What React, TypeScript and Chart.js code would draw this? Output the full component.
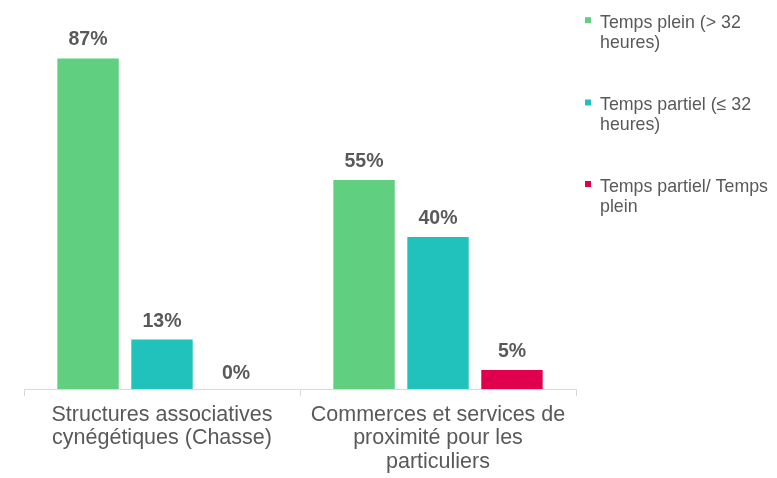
import React, { useEffect, useRef } from "react";
import { Chart, registerables } from "chart.js";

Chart.register(...registerables);

const categories: string[][] = [
  ["Structures associatives", "cynégétiques (Chasse)"],
  ["Commerces et services de", "proximité pour les", "particuliers"],
];
const seriesNames: string[][] = [
  ["Temps plein (> 32", "heures)"],
  ["Temps partiel (≤ 32", "heures)"],
  ["Temps partiel/ Temps", "plein"],
];
const tempsPlein: number[] = [87, 55];
const tempsPartiel: number[] = [13, 40];
const tempsMixte: number[] = [0, 5];
const seriesColors: string[] = ["#60CF80", "#21C2BB", "#E0004D"];

const FONT = "'Liberation Sans', Arial, sans-serif";
const TEXT = "#595959";

const valueLabels = {
  id: "valueLabels",
  afterDatasetsDraw(chart: any) {
    const ctx = chart.ctx;
    ctx.save();
    ctx.font = `bold 19.5px ${FONT}`;
    ctx.fillStyle = TEXT;
    ctx.textAlign = "center";
    ctx.textBaseline = "alphabetic";
    chart.data.datasets.forEach((ds: any, i: number) => {
      const meta = chart.getDatasetMeta(i);
      meta.data.forEach((el: any, j: number) => {
        const v = ds.data[j];
        const off = v === 0 ? 10 : 13;
        ctx.fillText(`${Math.round(v)}%`, el.x, el.y - off);
      });
    });
    ctx.restore();
  },
};

const sideLegend = {
  id: "sideLegend",
  afterDraw(chart: any) {
    const ctx = chart.ctx;
    const baselines = [27.7, 110, 191.5];
    ctx.save();
    ctx.font = `17.8px ${FONT}`;
    ctx.textAlign = "left";
    ctx.textBaseline = "alphabetic";
    seriesNames.forEach((lines, i) => {
      const b = baselines[i];
      ctx.fillStyle = seriesColors[i];
      ctx.fillRect(585, b - 10.5, 6, 6);
      ctx.fillStyle = TEXT;
      lines.forEach((ln, k) => ctx.fillText(ln, 600, b + k * 20.3));
    });
    ctx.restore();
  },
};

export default function App() {
  const ref = useRef<HTMLCanvasElement>(null);
  useEffect(() => {
    if (!ref.current) return;
    const chart = new Chart(ref.current, {
      type: "bar",
      data: {
        labels: categories,
        datasets: [
          { label: seriesNames[0].join(" "), data: tempsPlein, backgroundColor: seriesColors[0] },
          { label: seriesNames[1].join(" "), data: tempsPartiel, backgroundColor: seriesColors[1] },
          { label: seriesNames[2].join(" "), data: tempsMixte, backgroundColor: seriesColors[2] },
        ],
      },
      options: {
        animation: false,
        responsive: false,
        maintainAspectRatio: false,
        datasets: { bar: { categoryPercentage: 0.804, barPercentage: 0.83 } },
        layout: { padding: { left: 24, right: 201, top: 9, bottom: 0 } },
        plugins: { legend: { display: false }, tooltip: { enabled: false } },
        scales: {
          x: {
            afterFit: (s: any) => {
              s.height = 89;
            },
            grid: {
              offset: true,
              drawOnChartArea: false,
              drawTicks: true,
              tickLength: 7,
              color: "#D9D9D9",
            },
            border: { display: true, color: "#D9D9D9", width: 1 },
            ticks: {
              color: TEXT,
              font: { family: FONT, size: 21.5, lineHeight: 1.1 },
              padding: 7,
              maxRotation: 0,
              autoSkip: false,
            },
          },
          y: {
            display: false,
            min: 0,
            max: 100,
          },
        },
      },
      plugins: [valueLabels, sideLegend],
    });
    return () => chart.destroy();
  }, []);
  return (
    <div style={{ position: "fixed", left: 0, top: 0, width: 777, height: 478, background: "#fff" }}>
      <canvas ref={ref} width={777} height={478} style={{ width: 777, height: 478, display: "block" }} />
    </div>
  );
}
